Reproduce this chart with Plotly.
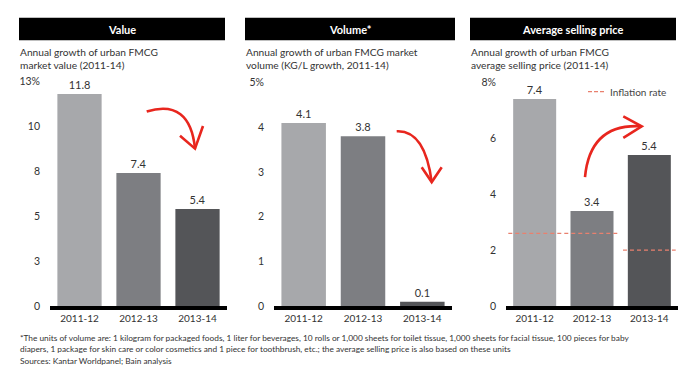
import plotly.graph_objects as go

W, H = 700, 382

categories = ["2011-12", "2012-13", "2013-14"]
value_growth = [11.8, 7.4, 5.4]
volume_growth = [4.1, 3.8, 0.1]
asp_growth = [7.4, 3.4, 5.4]
inflation_rate = [2.6, 2.6, 2.0]

value_ticks = [0, 2.5, 5, 7.5, 10, 12.5]
value_ticktext = ["0", "3", "5", "8", "10", "13%"]
volume_ticks = [0, 1, 2, 3, 4, 5]
volume_ticktext = ["0", "1", "2", "3", "4", "5%"]
asp_ticks = [0, 2, 4, 6, 8]
asp_ticktext = ["0", "2", "4", "6", "8%"]

headers = ["Value", "Volume*", "Average selling price"]
subtitles = [
    "Annual growth of urban FMCG<br>market value (2011-14)",
    "Annual growth of urban FMCG market<br>volume (KG/L growth, 2011-14)",
    "Annual growth of urban FMCG<br>average selling price (2011-14)",
]
footnote = [
    "*The units of volume are: 1 kilogram for packaged foods, 1 liter for beverages, 10 rolls or 1,000 sheets for toilet tissue, 1,000 sheets for facial tissue, 100 pieces for baby",
    "diapers, 1 package for skin care or color cosmetics and 1 piece for toothbrush, etc.; the average selling price is also based on these units",
    "Sources: Kantar Worldpanel; Bain analysis",
]

bar_colors = ["#a7a8ab", "#7d7e82", "#545558"]
RED = "#e8261e"
FONT = "Lato"
TXT = "#333333"


def px(x, y):
    return x / W, 1 - y / H


fig = go.Figure()

panels = [
    (value_growth, [50, 227], 12.97, value_ticks, value_ticktext),
    (volume_growth, [274, 452], 5.22, volume_ticks, volume_ticktext),
    (asp_growth, [506, 678], 8.33, asp_ticks, asp_ticktext),
]
ydom = [1 - 311 / H, 1 - 74 / H]
xs = list(range(len(categories)))

for i, (vals, xd, ymax, tv, tt) in enumerate(panels):
    sfx = "" if i == 0 else str(i + 1)
    fig.add_trace(go.Bar(
        x=xs, y=vals, xaxis="x" + sfx, yaxis="y" + sfx,
        marker=dict(color=bar_colors, line=dict(width=0)),
        width=0.75,
        text=[f"{v:.1f}" for v in vals], textposition="outside",
        textfont=dict(size=11, color=TXT, family=FONT),
        constraintext="none", cliponaxis=False, showlegend=False,
        hoverinfo="skip",
    ))
    fig.update_layout(**{
        "xaxis" + sfx: dict(
            domain=[xd[0] / W, xd[1] / W], range=[-0.5, 2.5], anchor="y" + sfx,
            tickvals=xs, ticktext=categories, showline=True, linecolor="black",
            linewidth=4, ticks="", showgrid=False, zeroline=False,
            tickfont=dict(size=10, color=TXT, family=FONT), fixedrange=True,
        ),
        "yaxis" + sfx: dict(
            domain=ydom, range=[0, ymax], anchor="x" + sfx,
            tickvals=tv, ticktext=tt, showline=False, showgrid=False,
            zeroline=False, ticks="", ticklabelstandoff=9,
            tickfont=dict(size=10.5, color=TXT, family=FONT), fixedrange=True,
        ),
    })

# inflation rate segments (consecutive equal values merged)
segs = []
start = 0
for j in range(1, len(inflation_rate) + 1):
    if j == len(inflation_rate) or inflation_rate[j] != inflation_rate[start]:
        segs.append((start, j - 1, inflation_rate[start]))
        start = j
for a, b, v in segs:
    fig.add_trace(go.Scatter(
        x=[a - 0.46, b + 0.46], y=[v, v], xaxis="x3", yaxis="y3", mode="lines",
        line=dict(color="#e9806e", width=1.2, dash="4px,3px"),
        showlegend=False, hoverinfo="skip",
    ))

shapes = []
annotations = []
header_x = [(19, 225), (245, 455), (470, 676)]
for (x0, x1), h, s in zip(header_x, headers, subtitles):
    a0, b0 = px(x0, 18)
    a1, b1 = px(x1, 41)
    shapes.append(dict(type="rect", xref="paper", yref="paper", x0=a0, x1=a1,
                       y0=b1, y1=b0, fillcolor="black", line=dict(width=0)))
    annotations.append(dict(xref="paper", yref="paper", x=(a0 + a1) / 2,
                            y=(b0 + b1) / 2, text=f"<b>{h}</b>", showarrow=False,
                            font=dict(size=11, color="white", family=FONT),
                            xanchor="center", yanchor="middle"))
    sx, sy = px(x0, 45)
    annotations.append(dict(xref="paper", yref="paper", x=sx, y=sy, text=s,
                            showarrow=False, align="left", xanchor="left",
                            yanchor="top", xshift=-1,
                            font=dict(size=10.2, color=TXT, family=FONT)))

# inflation legend
l0 = px(588, 93)
l1 = px(604, 93)
shapes.append(dict(type="line", xref="paper", yref="paper", x0=l0[0], x1=l1[0],
                   y0=l0[1], y1=l1[1],
                   line=dict(color="#e9806e", width=1.2, dash="4px,2px")))
lt = px(608, 93)
annotations.append(dict(xref="paper", yref="paper", x=lt[0], y=lt[1],
                        text="Inflation rate", showarrow=False, xanchor="left",
                        yanchor="middle", font=dict(size=10, color="#444", family=FONT)))

# footnote
for k, line in enumerate(footnote):
    fx, fy = px(19, 343 + 12 * k)
    annotations.append(dict(xref="paper", yref="paper", x=fx, y=fy, text=line,
                            showarrow=False, xanchor="left", yanchor="middle",
                            xshift=-1, font=dict(size=8.3, color=TXT, family=FONT)))


def qpath(p0, c, p1):
    a, b, d = px(*p0), px(*c), px(*p1)
    return f"M{a[0]},{a[1]} Q{b[0]},{b[1]} {d[0]},{d[1]}"


def lpath(pts):
    q = [px(*p) for p in pts]
    return "M" + " L".join(f"{x},{y}" for x, y in q)


# red hand-drawn style arrows
arrows = [
    ((146.7, 113.3), (190, 100), (195, 151), [(180, 138), (195, 151), (203, 128)]),
    ((396.7, 133.3), (425, 132), (431.7, 185), [(421.7, 170), (431.7, 185), (441.7, 170)]),
    ((585, 180), (590, 125), (641.7, 128.3), [(623.3, 118.3), (641.7, 128.3), (623.3, 140)]),
]
for p0, c, p1, head in arrows:
    shapes.append(dict(type="path", xref="paper", yref="paper", path=qpath(p0, c, p1),
                       line=dict(color=RED, width=2.6)))
    shapes.append(dict(type="path", xref="paper", yref="paper", path=lpath(head),
                       line=dict(color=RED, width=2.6)))

fig.update_layout(
    width=W, height=H, margin=dict(l=0, r=0, t=0, b=0),
    paper_bgcolor="white", plot_bgcolor="white",
    shapes=shapes, annotations=annotations, bargap=0.25,
    font=dict(family=FONT, color=TXT),
)

fig.write_html(
    "out.html",
    config={"displayModeBar": False, "staticPlot": True},
    post_script="document.body.style.margin='0';document.body.style.overflow='hidden';",
)
